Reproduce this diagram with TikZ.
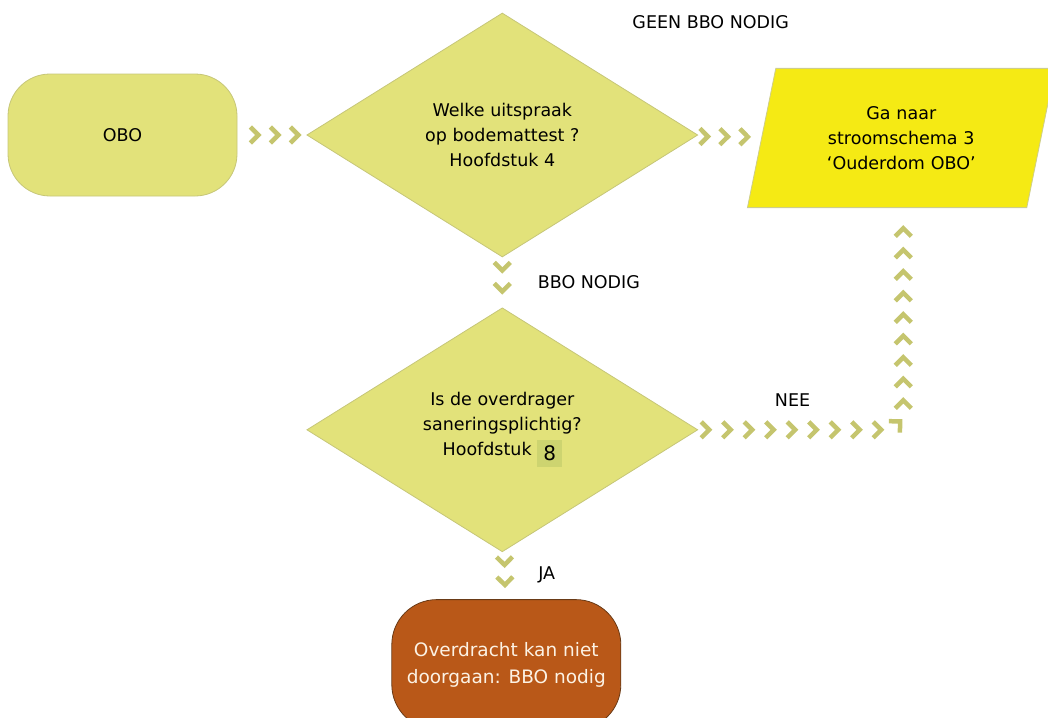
\documentclass[tikz,border=0pt]{standalone}
\usepackage{xcolor}
\usepackage{fontspec}
\setmainfont{DejaVu Sans}
\usepackage{tikz}
\usetikzlibrary{shapes.geometric, positioning, decorations.markings}
\definecolor{mossfill}{RGB}{226,226,122}
\definecolor{mossline}{RGB}{198,198,120}
\definecolor{chevgreen}{RGB}{197,197,110}
\definecolor{signal}{RGB}{245,234,20}
\definecolor{signalline}{RGB}{205,205,140}
\definecolor{rust}{RGB}{185,88,24}
\definecolor{rustline}{RGB}{105,58,22}
\definecolor{cream}{RGB}{252,242,228}
\definecolor{hilite}{RGB}{205,212,112}
\newcommand{\chartfont}{\fontsize{17.5}{25}\selectfont}

\begin{document}
\begin{tikzpicture}[
				x=1pt, y=-1pt,
				term/.style={rectangle, draw=mossline, fill=mossfill, thick, rounded corners=42pt,
					minimum width=229pt, minimum height=122pt, align=center, font=\chartfont},
				question/.style={diamond, aspect=1.6, draw=mossline, fill=mossfill, thick,
					minimum width=391pt, minimum height=244pt, align=center, font=\chartfont},
				jump/.style={trapezium, trapezium left angle=78.5, trapezium right angle=101.5,
					draw=signalline, fill=signal, thick, text width=170pt,
					inner xsep=40.5pt, inner ysep=38pt, align=center, font=\chartfont},
				halt/.style={rectangle, draw=rustline, fill=rust, thick, rounded corners=45pt,
					minimum width=229pt, minimum height=130pt, align=center, text=cream,
					font=\fontsize{18.5}{27}\selectfont},
				elabel/.style={font=\chartfont, color=black},
				chev/.style={draw=chevgreen, line width=4.5pt, line join=miter, sharp corners},
				chevrons/.style n args={3}{postaction={decorate, decoration={markings,
					mark=between positions #1 and #2 step #3 with {\draw[chev] (-4pt,-8pt) -- (4pt,0pt) -- (-4pt,8pt);}}}}
				]
				\useasboundingbox (0,0) rectangle (1048,717);

				\node[term] (obo) at (122.5,135) {OBO};
				\node[question, right=69pt of obo] (q1) {Welke uitspraak\\op bodemattest ?\\Hoofdstuk 4};
				\node[jump, right=63pt of q1, yshift=-3pt] (goto3) {Ga naar\\stroomschema 3\\`Ouderdom OBO'};
				\node[question, below=50pt of q1] (q2) {Is de overdrager\\saneringsplichtig?\\Hoofdstuk {\setlength{\fboxsep}{6pt}\raisebox{-5pt}{\colorbox{hilite}{\fontsize{20}{20}\selectfont 8}}}};
				\node[halt, below=47pt of q2, xshift=4pt] (fail) {Overdracht kan niet\\doorgaan: BBO nodig};

				\path[chevrons={17pt}{57pt}{20pt}] (obo) -- (q1);
				\path[chevrons={8pt}{48pt}{20pt}] (q1) -- (goto3) node[midway, above=104pt, xshift=-18pt, elabel] {GEEN BBO NODIG};
				\path[chevrons={9pt}{30pt}{21pt}] (q1) -- (q2) node[midway, right=32pt, elabel] {BBO NODIG};
				\path[chevrons={10pt}{30pt}{20pt}] (q2) -- (fail) node[midway, right=30pt, elabel] {JA};
				\path[rounded corners=20pt, chevrons={7pt}{395pt}{21.5pt}] (q2.east) -| ([xshift=2pt]goto3.south) node[pos=0.23, above=20pt, elabel] {NEE};
			\end{tikzpicture}
\end{document}
